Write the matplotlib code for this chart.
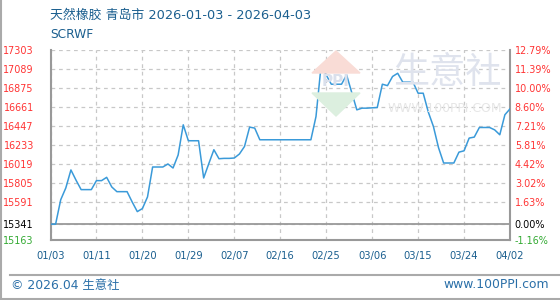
import matplotlib
matplotlib.use("Agg")
import matplotlib.pyplot as plt
from matplotlib.lines import Line2D
from matplotlib.patches import Polygon
import numpy as np

plt.rcParams['font.family'] = ['DejaVu Sans', 'Noto Sans CJK SC']

# daily price, yuan/ton
prices = [
    15341, 15341, 15615, 15748, 15950, 15835, 15729, 15729, 15729, 15830,
    15830, 15867, 15759, 15706, 15706, 15706, 15590, 15482, 15516, 15647,
    15983, 15983, 15983, 16017, 15972, 16118, 16457, 16278, 16278, 16278,
    15860, 16020, 16177, 16076, 16080, 16080, 16084, 16129, 16214, 16431,
    16420, 16289, 16289, 16289, 16289, 16289, 16289, 16289, 16289, 16289,
    16289, 16289, 16550, 17121, 17017, 16913, 16913, 16913, 17017, 16820,
    16625, 16644, 16644, 16648, 16651, 16913, 16897, 17000, 17036, 16936,
    16936, 16936, 16812, 16812, 16600, 16438, 16200, 16028, 16028, 16028,
    16150, 16165, 16308, 16319, 16427, 16427, 16427, 16400, 16345, 16570,
    16636,
]
x_labels = ['01/03', '01/11', '01/20', '01/29', '02/07', '02/16',
            '02/25', '03/06', '03/15', '03/24', '04/02']
x_ticks = [0, 9, 18, 27, 36, 45, 54, 63, 72, 81, 90]
y_ticks = [17303, 17089, 16875, 16661, 16447, 16233, 16019, 15805, 15591, 15341, 15163]
base_price = 15341

title = '天然橡胶 青岛市 2026-01-03 - 2026-04-03'
subtitle = 'SCRWF'

RED = '#ff3333'
GREEN = '#33aa33'
BLUE_TXT = '#1b5f8f'
FRAME = '#999999'

W, H = 560, 300


def fx(px):
    return px / W


def fy(py):
    return 1 - py / H


fig = plt.figure(figsize=(5.6, 3.0), dpi=100)
ax = fig.add_axes([fx(50.5), fy(240), (510 - 50.5) / W, (240 - 49.5) / H])

days = np.arange(len(prices))
ax.plot(days, prices, color='#3a9ad9', lw=1.1, zorder=3)
ax.axhline(base_price, color=FRAME, lw=1.3, zorder=2)

ax.set_xlim(0, 90)
ax.set_ylim(min(y_ticks), max(y_ticks))
ax.set_xticks(x_ticks)
ax.set_xticklabels(x_labels, fontsize=7.2, color=BLUE_TXT)
ax.set_yticks(y_ticks)
ax.set_yticklabels([str(v) for v in y_ticks], fontsize=6.9)
ax.tick_params(axis='both', length=0)
ax.tick_params(axis='x', pad=8)
ax.tick_params(axis='y', pad=12)

ax.set_axisbelow(True)
ax.grid(True, ls=(0, (3, 3)), color='#c8c8c8', lw=0.9)

for side in ['left', 'bottom', 'right']:
    ax.spines[side].set_color(FRAME)
    ax.spines[side].set_linewidth(1.5)
ax.spines['top'].set_visible(False)


def tick_color(v):
    if v == base_price:
        return 'black'
    return GREEN if v < base_price else RED


for lbl, v in zip(ax.get_yticklabels(), y_ticks):
    lbl.set_color(tick_color(v))

# right axis in percent vs. the base price
ax2 = ax.twinx()
ax2.set_ylim(ax.get_ylim())
ax2.set_yticks(y_ticks)
ax2.set_yticklabels([f"{(v - base_price) / base_price * 100:.2f}%" for v in y_ticks], fontsize=6.9)
ax2.tick_params(axis='y', length=0, pad=3.5)
for side in ['left', 'bottom', 'right', 'top']:
    ax2.spines[side].set_visible(False)
for lbl, v in zip(ax2.get_yticklabels(), y_ticks):
    lbl.set_color(tick_color(v))

# watermark
fig.add_artist(Polygon([(fx(312), fy(73)), (fx(360), fy(73)), (fx(336), fy(51))],
                       closed=True, transform=fig.transFigure, color='#f9dcd6', zorder=0.3))
fig.add_artist(Polygon([(fx(312), fy(93)), (fx(360), fy(93)), (fx(336), fy(116))],
                       closed=True, transform=fig.transFigure, color='#dcefdf', zorder=0.3))
fig.text(fx(336), fy(82), 'PPI', fontsize=11, fontweight='bold', color='#dae0ec',
         ha='center', va='center', zorder=0.4)
fig.text(fx(447), fy(73), '生意社', fontsize=26, color='#dfe3ed',
         family=['Noto Sans CJK SC'], ha='center', va='center', zorder=0.4)
fig.text(fx(445), fy(108), 'WWW.100PPI.COM', fontsize=8.9, color='#e6e6e6',
         ha='center', va='center', zorder=0.4)

# header
fig.text(fx(50), fy(15), title, fontsize=9.3, color=BLUE_TXT, ha='left', va='center')
fig.text(fx(50), fy(34.5), subtitle, fontsize=8.8, color=BLUE_TXT, ha='left', va='center')

# footer
fig.add_artist(Line2D([fx(10), 1], [fy(275), fy(275)], transform=fig.transFigure,
                      color='#aaaaaa', lw=1.5))
fig.text(fx(11), fy(285), '© 2026.04 生意社', fontsize=8.9, color='#2a6fa8',
         ha='left', va='center')
fig.text(fx(549), fy(285), 'www.100PPI.com', fontsize=8.9, color='#2a6fa8',
         ha='right', va='center')

# outer border (left and bottom)
fig.add_artist(Line2D([fx(0.7), fx(0.7)], [0, 1], transform=fig.transFigure,
                      color='#aaaaaa', lw=1.5))
fig.add_artist(Line2D([0, 1], [fy(299.3), fy(299.3)], transform=fig.transFigure,
                      color='#aaaaaa', lw=1.5))

fig.savefig('out.png', dpi=100, facecolor='white')
